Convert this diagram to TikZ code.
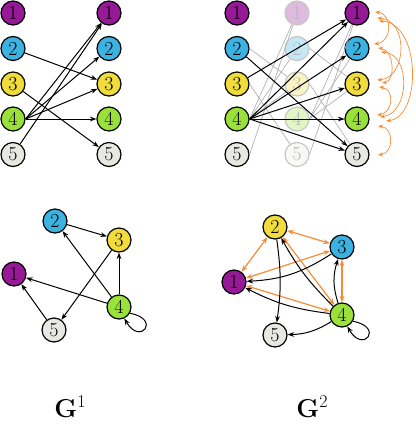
\documentclass[tikz,border=0pt]{standalone}
\usetikzlibrary{arrows.meta}
\definecolor{cpur}{RGB}{150,25,150}
\definecolor{cblu}{RGB}{60,178,225}
\definecolor{cyel}{RGB}{240,220,60}
\definecolor{cgre}{RGB}{155,225,60}
\definecolor{cgry}{RGB}{232,232,226}
\definecolor{corg}{RGB}{245,140,55}
\newcommand{\glabtext}[1]{\textbf{G}\raisebox{10bp}{\fontsize{18}{20}\selectfont #1}}
\begin{document}
\begin{tikzpicture}[x=1bp,y=1bp,
 vtx/.style={circle,draw=black,line width=1.2bp,minimum size=24bp,inner sep=0pt,font=\fontsize{20}{21}\selectfont},
 fvtx/.style={circle,draw=black!22,line width=1.2bp,minimum size=24bp,inner sep=0pt,font=\fontsize{20}{21}\selectfont,text=black!28},
 arr/.style={-{Stealth[length=6.5bp,width=4.8bp]},line width=1bp},
 garr/.style={line width=0.7bp,black!30},
 oarc/.style={{Stealth[length=5bp,width=4bp,open]}-{Stealth[length=5bp,width=4bp,open]},line width=0.7bp,corg},
 oedge/.style={{Stealth[length=6.5bp,width=4.8bp]}-{Stealth[length=6.5bp,width=4.8bp]},line width=1.2bp,corg},
 glab/.style={font=\fontsize{26}{30}\selectfont,anchor=base}
 ]
\useasboundingbox (0,0) rectangle (416,-428);
% top-left
\foreach \i/\y/\c in {1/13/cpur,2/48.5/cblu,3/84/cyel,4/119/cgre,5/154.5/cgry}{
  \node[vtx,fill=\c] (a\i) at (13,-\y) {\i};
  \node[vtx,fill=\c] (b\i) at (109,-\y) {\i};
}
\draw[arr] (a2) -- (b3);
\draw[arr] (a3) -- (b5);
\draw[arr] (a4.east) -- (b1);
\draw[arr] (a4.east) -- (b2);
\draw[arr] (a4.east) -- (b3);
\draw[arr] (a4.east) -- (b4);
\draw[arr] (a5) -- (b1);
% top-right
\foreach \i/\y/\c in {1/13/cpur,2/48.5/cblu,3/84/cyel,4/119/cgre,5/154.5/cgry}{
  \node[vtx,fill=\c] (c\i) at (237,-\y) {\i};
  \node[fvtx,fill=\c!30] (d\i) at (297,-\y) {\i};
  \node[vtx,fill=\c] (e\i) at (357,-\y) {\i};
}
\draw[garr] (c2.east) -- (d3);
\draw[garr] (c3.east) -- (d5);
\draw[garr] (c4.east) -- (d1);
\draw[garr] (c4.east) -- (d2);
\draw[garr] (c4.east) -- (d3);
\draw[garr] (c4.east) -- (d4);
\draw[garr] (c5.east) -- (d1);
\draw[garr] (d2.east) -- (e3);
\draw[garr] (d3.east) -- (e5);
\draw[garr] (d4.east) -- (e1);
\draw[garr] (d4.east) -- (e2);
\draw[garr] (d4.east) -- (e3);
\draw[garr] (d4.east) -- (e4);
\draw[garr] (d5.east) -- (e1);
\draw[arr] (c2) -- (e5);
\draw[arr] (c3) -- (e1);
\draw[arr] (c4.east) -- (e1);
\draw[arr] (c4.east) -- (e2);
\draw[arr] (c4.east) -- (e3);
\draw[arr] (c4.east) -- (e4);
\draw[arr] (c4.east) -- (e5);
% orange arcs
\coordinate (p12a) at (375,-12);   \coordinate (p12b) at (374,-44);
\coordinate (p13a) at (377,-18);   \coordinate (p13b) at (377,-80);
\coordinate (p14a) at (379,-21);   \coordinate (p14b) at (386,-121);
\coordinate (p23a) at (378,-48);   \coordinate (p23b) at (382,-83);
\coordinate (p24a) at (381,-52);   \coordinate (p24b) at (380,-117);
\coordinate (p34a) at (379,-87);   \coordinate (p34b) at (377,-115);
\coordinate (p45a) at (378,-126);  \coordinate (p45b) at (378,-155);
\draw[oarc] (p12a) .. controls +(18,-2) and +(18,2) .. (p12b);
\draw[oarc] (p13a) .. controls +(32,-2) and +(30,2) .. (p13b);
\draw[oarc] (p14a) .. controls +(42,-2) and +(36,4) .. (p14b);
\draw[oarc] (p23a) .. controls +(16,-2) and +(14,2) .. (p23b);
\draw[oarc] (p24a) .. controls +(30,-2) and +(30,4) .. (p24b);
\draw[oarc] (p34a) .. controls +(16,-2) and +(16,2) .. (p34b);
\draw[oarc] (p45a) .. controls +(16,-2) and +(16,2) .. (p45b);
% G1 graph
\node[vtx,fill=cpur] (g1) at (14,-274) {1};
\node[vtx,fill=cblu] (g2) at (55,-221) {2};
\node[vtx,fill=cyel] (g3) at (119,-240) {3};
\node[vtx,fill=cgre] (g4) at (119,-307) {4};
\node[vtx,fill=cgry] (g5) at (54,-330) {5};
\draw[arr] (g2) -- (g3);
\draw[arr] (g3) -- (g5);
\draw[arr] (g4) -- (g1);
\draw[arr] (g4) -- (g2);
\draw[arr] (g4) -- (g3);
\draw[arr] (g5) -- (g1);
\draw[arr] (g4.-30) .. controls +(-10:32) and +(-60:32) .. (g4.-65);
% G2 graph
\node[vtx,fill=cpur] (h1) at (234,-282) {1};
\node[vtx,fill=cyel] (h2) at (275,-227) {2};
\node[vtx,fill=cblu] (h3) at (342,-247) {3};
\node[vtx,fill=cgre] (h4) at (342,-315) {4};
\node[vtx,fill=cgry] (h5) at (275,-335) {5};
\draw[oedge] (h1) -- (h2);
\draw[oedge] (h1) -- (h3);
\draw[oedge] (h1) -- (h4);
\draw[oedge] (h2) -- (h3);
\draw[oedge] (h2) -- (h4);
\draw[oedge] (h3) -- (h4);
\draw[arr] (h4) to[bend left=8] (h2);
\draw[arr] (h2) to[bend left=8] (h5);
\draw[arr] (h3) to[bend left=15] (h1);
\draw[arr] (h4) to[bend left=10] (h1);
\draw[arr] (h4) to[bend left=18] (h3);
\draw[arr] (h4) to[bend left=15] (h5);
\draw[arr] (h4.-30) .. controls +(-10:32) and +(-60:32) .. (h4.-65);
% labels
\node[glab] (l1) at (70,-417) {\glabtext{1}};
\node[glab] (l2) at (312,-417) {\glabtext{2}};
\end{tikzpicture}
\end{document}
